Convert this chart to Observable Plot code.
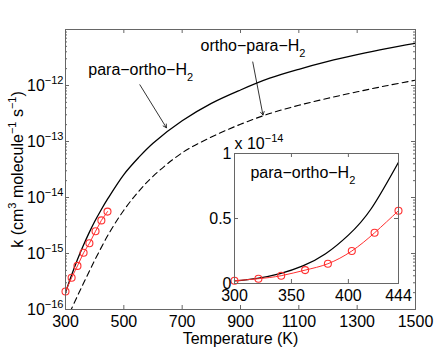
<!DOCTYPE html>
<html><head><meta charset="utf-8">
<script src="https://cdn.jsdelivr.net/npm/d3@7"></script>
<script src="https://cdn.jsdelivr.net/npm/@observablehq/plot@0.6"></script>
<style>
body{margin:0;background:#fff;}
#wrap{position:relative;width:436px;height:348px;}
#inset{position:absolute;left:202px;top:131px;}
</style></head><body><div id="wrap"><div id="main"></div><div id="inset"></div></div>
<script>
// para-ortho-H2 (solid)
const solidT = [300, 320, 340, 360, 380, 400, 420, 444, 500, 550, 600, 700, 800, 900, 1000, 1100, 1200, 1300, 1400, 1500];
const solidK = [2.0e-16, 4.0e-16, 7.6e-16, 1.35e-15, 2.29e-15, 3.72e-15, 5.75e-15, 9.33e-15, 2.57e-14, 5.13e-14, 9.33e-14, 2.34e-13, 4.79e-13, 8.32e-13, 1.35e-12, 1.95e-12, 2.69e-12, 3.55e-12, 4.57e-12, 5.69e-12];
// ortho-para-H2 (dashed)
const dashedT = [315, 340, 360, 380, 400, 450, 500, 550, 600, 700, 800, 900, 1000, 1100, 1200, 1300, 1400, 1500];
const dashedK = [8.9e-17, 1.70e-16, 2.82e-16, 4.63e-16, 7.55e-16, 2.33e-15, 5.93e-15, 1.27e-14, 2.39e-14, 6.28e-14, 1.20e-13, 2.03e-13, 3.15e-13, 4.43e-13, 5.92e-13, 7.71e-13, 9.89e-13, 1.245e-12];
// measured points (red)
const expT = [300, 321, 341, 362, 382, 403, 423, 444];
const expK = [2.1e-16, 3.7e-16, 6.0e-16, 1.03e-15, 1.52e-15, 2.5e-15, 3.9e-15, 5.6e-15];

const xTicks = [300, 500, 700, 900, 1100, 1300, 1500];
const yTicks = [1e-16, 1e-15, 1e-14, 1e-13, 1e-12];
const yFrameTicks = [1e-16, 1e-15, 1e-14, 1e-13, 1e-12, 1e-11];
const insetXTicks = [300, 350, 400, 444];
const insetYTicks = [0, 0.5, 1];
const insetScale = 1e-14;

const labelTexts = ["para−ortho−H_{2}", "ortho−para−H_{2}"];
const labelT = [378, 763];
const labelK = [1.55e-12, 4.1e-12];
const arrowT1 = [555, 942], arrowK1 = [1.03e-12, 2.63e-12];
const arrowT2 = [646, 977], arrowK2 = [1.76e-13, 2.97e-13];
const insetLabel = {text: "para−ortho−H_{2}", T: 314, v: 0.81};

const solid = solidT.map((T, i) => ({T, k: solidK[i]}));
const dashed = dashedT.map((T, i) => ({T, k: dashedK[i]}));
const exp = expT.map((T, i) => ({T, k: expK[i]}));
const labels = labelTexts.map((text, i) => ({text, T: labelT[i], k: labelK[i]}));
const arrows = arrowT1.map((T, i) => ({x1: T, y1: arrowK1[i], x2: arrowT2[i], y2: arrowK2[i]}));
const minor = [];
for (let e = -16; e <= -12; e++) for (let m = 2; m <= 9; m++) minor.push(m * Math.pow(10, e));

const FONT = "'Liberation Sans', Arial, Helvetica, sans-serif";
const RED = "#ff3030";
const FRAME = "#666";
const sup = d => `10^{−${Math.round(-Math.log10(d))}}`;

const W = 436, H = 348, ML = 65, MR = 21, MT = 29, MB = 39;
const FW = W - ML - MR, FH = H - MT - MB;

const main = Plot.plot({
  width: W, height: H, marginLeft: ML, marginRight: MR, marginTop: MT, marginBottom: MB,
  style: {fontFamily: FONT, fontSize: "16px", background: "transparent", color: "black"},
  x: {domain: [300, 1500]},
  y: {type: "log", domain: [1e-16, 1e-11]},
  marks: [
    Plot.line(dashed, {x: "T", y: "k", stroke: "black", strokeWidth: 1.1, strokeDasharray: "6,4", curve: "catmull-rom", clip: true}),
    Plot.line(solid, {x: "T", y: "k", stroke: "black", strokeWidth: 1.3, curve: "catmull-rom", clip: true}),
    Plot.line(exp, {x: "T", y: "k", stroke: RED, strokeWidth: 1}),
    Plot.dot(exp, {x: "T", y: "k", r: 3.5, stroke: RED, fill: "none", strokeWidth: 1.1}),
    Plot.arrow(arrows, {x1: "x1", y1: "y1", x2: "x2", y2: "y2", stroke: "black", strokeWidth: 0.8, headLength: 7}),
    Plot.text(labels, {x: "T", y: "k", text: "text", textAnchor: "start", lineAnchor: "bottom"}),
    Plot.tickX(xTicks, {x: d => d, insetTop: FH - 4, stroke: FRAME}),
    Plot.tickX(xTicks, {x: d => d, insetBottom: FH - 4, stroke: FRAME}),
    Plot.tickY(yFrameTicks, {y: d => d, insetRight: FW - 4, stroke: FRAME}),
    Plot.tickY(yFrameTicks, {y: d => d, insetLeft: FW - 4, stroke: FRAME}),
    Plot.tickY(minor, {y: d => d, insetRight: FW - 2, stroke: FRAME}),
    Plot.tickY(minor, {y: d => d, insetLeft: FW - 2, stroke: FRAME}),
    Plot.axisX({ticks: xTicks, tickFormat: d => String(d), tickSize: 0, tickPadding: 6, label: null}),
    Plot.axisY({ticks: yTicks, tickFormat: sup, tickSize: 0, tickPadding: 2, label: null}),
    Plot.text(["Temperature (K)"], {frameAnchor: "bottom", text: d => d, textAnchor: "middle", lineAnchor: "bottom", dy: 34}),
    Plot.text(["k (cm^{3} molecule^{−1} s^{−1})"], {frameAnchor: "left", text: d => d, textAnchor: "middle", lineAnchor: "middle", rotate: -90, dx: -48}),
    Plot.frame({stroke: FRAME})
  ]
});
document.getElementById("main").appendChild(main);

const IW = 220, IH = 174, IML = 32, IMR = 24, IMT = 22, IMB = 22;
const IFW = IW - IML - IMR, IFH = IH - IMT - IMB;
const insetSolid = solid.filter(d => d.T <= 444);
const inset = Plot.plot({
  width: IW, height: IH, marginLeft: IML, marginRight: IMR, marginTop: IMT, marginBottom: IMB,
  style: {fontFamily: FONT, fontSize: "16px", background: "transparent", color: "black"},
  x: {domain: [300, 444]},
  y: {domain: [0, 1]},
  marks: [
    Plot.frame({fill: "white"}),
    Plot.line(insetSolid, {x: "T", y: d => d.k / insetScale, stroke: "black", strokeWidth: 1.3, curve: "natural"}),
    Plot.line(exp, {x: "T", y: d => d.k / insetScale, stroke: RED, strokeWidth: 1, curve: "natural"}),
    Plot.dot(exp, {x: "T", y: d => d.k / insetScale, r: 3.5, stroke: RED, fill: "none", strokeWidth: 1.1}),
    Plot.text([insetLabel], {x: "T", y: "v", text: "text", textAnchor: "start", lineAnchor: "bottom"}),
    Plot.text(["x 10^{−14}"], {frameAnchor: "top-left", text: d => d, textAnchor: "start", lineAnchor: "bottom", dy: -5}),
    Plot.tickX(insetXTicks, {x: d => d, insetTop: IFH - 4, stroke: FRAME}),
    Plot.tickX(insetXTicks, {x: d => d, insetBottom: IFH - 4, stroke: FRAME}),
    Plot.tickY(insetYTicks, {y: d => d, insetRight: IFW - 4, stroke: FRAME}),
    Plot.tickY(insetYTicks, {y: d => d, insetLeft: IFW - 4, stroke: FRAME}),
    Plot.axisX({ticks: insetXTicks, tickFormat: d => String(d), tickSize: 0, tickPadding: 6, label: null}),
    Plot.axisY({ticks: insetYTicks, tickFormat: d => String(d), tickSize: 0, tickPadding: 3, label: null}),
    Plot.frame({stroke: FRAME})
  ]
});
document.getElementById("inset").appendChild(inset);

function rich(svg) {
  svg.querySelectorAll("text").forEach(t => {
    const s = t.textContent;
    if (!/[\^_]\{/.test(s)) return;
    const re = /([\^_])\{([^}]*)\}/g;
    const segs = []; let last = 0, m;
    while ((m = re.exec(s))) {
      if (m.index > last) segs.push([s.slice(last, m.index), 0]);
      segs.push([m[2], m[1] === "^" ? -7 : 6]);
      last = re.lastIndex;
    }
    if (last < s.length) segs.push([s.slice(last), 0]);
    while (t.firstChild) t.removeChild(t.firstChild);
    let cur = 0;
    for (const [txt, off] of segs) {
      const ts = document.createElementNS("http://www.w3.org/2000/svg", "tspan");
      if (off !== cur) ts.setAttribute("dy", off - cur);
      if (off !== 0) ts.setAttribute("font-size", "11px");
      ts.textContent = txt;
      t.appendChild(ts);
      cur = off;
    }
  });
}
rich(main);
rich(inset);
</script></body></html>
